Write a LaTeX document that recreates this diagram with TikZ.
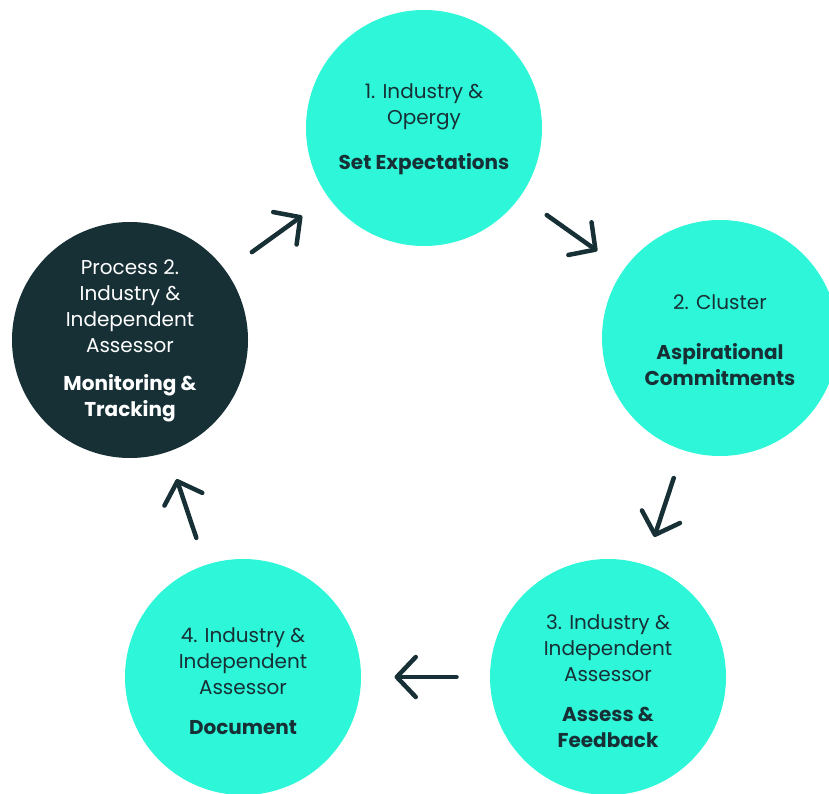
\documentclass[tikz,border=0pt]{standalone}
\usepackage{fontspec}
\setmainfont{Poppins}
\usetikzlibrary{arrows.meta,calc}
\definecolor{teal1}{RGB}{45,247,216}
\definecolor{dark1}{RGB}{23,48,54}
\begin{document}
\begin{tikzpicture}[x=1pt,y=-1pt,
  bubble/.style={circle,fill=teal1,text=dark1,minimum size=236pt,inner sep=0pt,align=center,
    font=\fontsize{20}{26}\selectfont},
  darkbubble/.style={bubble,fill=dark1,text=white},
  txt/.style={inner sep=0pt,align=center,font=\fontsize{20}{26}\selectfont},
  arr/.style={draw=dark1,line width=4.5pt,line cap=round,line join=round,
    -{Straight Barb[length=19pt,width=40pt,line cap=round,line join=round]}}]
\useasboundingbox (0,0) rectangle (829,794);
\node[bubble] (c1) at (424,128) {};
\node[bubble] (c2) at (720,338) {};
\node[bubble] (c3) at (608,677) {};
\node[bubble] (c4) at (243,677) {};
\node[darkbubble] (c5) at (130,340) {};
\node[txt,text=dark1] (t1) at ($(c1.center)+(0,1)$) {1. Industry \&\\Opergy\\[19pt]\textbf{Set Expectations}};
\node[txt,text=dark1] (t2) at ($(c2.center)+(0,2)$) {2. Cluster\\[24pt]\textbf{Aspirational}\\\textbf{Commitments}};
\node[txt,text=dark1] (t3) at ($(c3.center)+(0,4)$) {3. Industry \&\\Independent\\Assessor\\[14pt]\textbf{Assess \&}\\\textbf{Feedback}};
\node[txt,text=dark1] (t4) at ($(c4.center)+(0,4)$) {4. Industry \&\\Independent\\Assessor\\[14pt]\textbf{Document}};
\node[txt,text=white] (t5) at ($(c5.center)+(0,1)$) {Process 2.\\Industry \&\\Independent\\Assessor\\[12pt]\textbf{Monitoring \&}\\\textbf{Tracking}};
\foreach \a/\b/\n in {c5/c1/1,c1/c2/2,c2/c3/3,c3/c4/4,c4/c5/5}{
  \coordinate (m\n) at ($(\a)!0.5!(\b)$);
  \coordinate (s\n) at ($(m\n)!31pt!(\a)$);
  \coordinate (e\n) at ($(m\n)!31pt!(\b)$);
  \draw[arr] (s\n) -- (e\n);
}
\end{tikzpicture}
\end{document}
